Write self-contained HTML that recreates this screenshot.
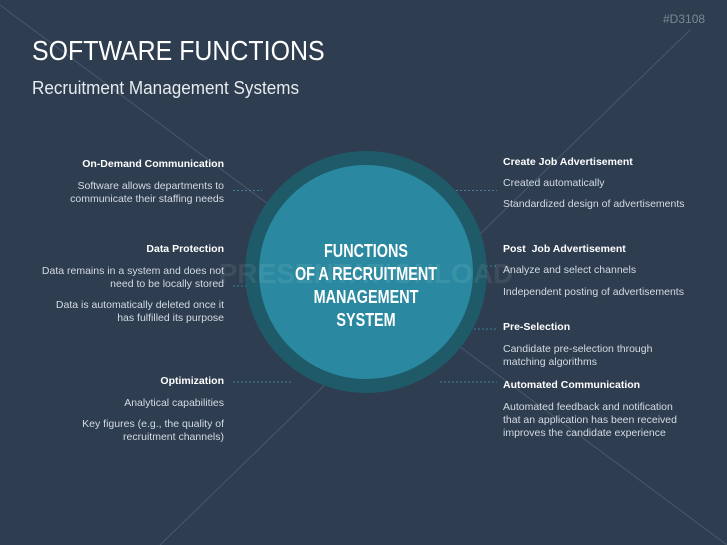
<!DOCTYPE html>
<html><head><meta charset="utf-8"><style>
*{margin:0;padding:0}
body{width:727px;height:545px;background:#2e3d50;position:relative;overflow:hidden;font-family:"Liberation Sans",sans-serif;color:#d4dbe2}
.a{position:absolute;font-size:10.5px;line-height:13px}
.l{text-align:right;right:503px;width:220px}
.r{left:503px;width:220px}
b{color:#fff;font-size:10.5px}
.t{position:absolute;color:#fff}
</style></head><body>
<svg width="727" height="545" style="position:absolute;left:0;top:0">
<line x1="0" y1="5" x2="727" y2="545" stroke="#4a5869" stroke-width="1"/>
<line x1="690" y1="30" x2="160" y2="545" stroke="#4a5869" stroke-width="1"/>
<g stroke="#3f7f95" stroke-dasharray="2,2" stroke-width="1">
<line x1="233" y1="190.5" x2="262" y2="190.5"/>
<line x1="233" y1="286" x2="248" y2="286"/>
<line x1="233" y1="382" x2="292" y2="382"/>
<line x1="436" y1="190.5" x2="497" y2="190.5"/>
<line x1="486" y1="266" x2="497" y2="266"/>
<line x1="470" y1="329" x2="497" y2="329"/>
<line x1="440" y1="382" x2="497" y2="382"/>
</g>
<circle cx="366" cy="272" r="121" fill="#1f5a69"/>
<circle cx="366" cy="272" r="107" fill="#2a89a0"/>
<text x="366" y="283" text-anchor="middle" font-family="Liberation Sans" font-weight="bold" font-size="28" fill="#fff" fill-opacity="0.08">PRESENTATIONLOAD</text>
</svg>
<div class="t" style="left:32px;top:35px;font-size:28px;transform:scaleX(0.89);transform-origin:left">SOFTWARE FUNCTIONS</div>
<div class="t" style="left:32px;top:78px;font-size:18px;color:#e6ebef;transform:scaleX(0.95);transform-origin:left">Recruitment Management Systems</div>
<div class="t" style="left:663px;top:12px;font-size:12px;color:#7b8795">#D3108</div>
<div class="t" style="left:266px;top:240px;width:200px;text-align:center;font-size:18px;line-height:23px;font-weight:bold;transform:scaleX(0.8);transform-origin:center">FUNCTIONS<br>OF A RECRUITMENT<br>MANAGEMENT<br>SYSTEM</div>
<div class="a l" style="top:158px"><b>On-Demand Communication</b></div>
<div class="a l" style="top:180px">Software allows departments to<br>communicate their staffing needs</div>
<div class="a l" style="top:243px"><b>Data Protection</b></div>
<div class="a l" style="top:265px">Data remains in a system and does not<br>need to be locally stored</div>
<div class="a l" style="top:299px">Data is automatically deleted once it<br>has fulfilled its purpose</div>
<div class="a l" style="top:375px"><b>Optimization</b></div>
<div class="a l" style="top:397px">Analytical capabilities</div>
<div class="a l" style="top:418px">Key figures (e.g., the quality of<br>recruitment channels)</div>
<div class="a r" style="top:156px"><b>Create Job Advertisement</b></div>
<div class="a r" style="top:177px">Created automatically</div>
<div class="a r" style="top:198px">Standardized design of advertisements</div>
<div class="a r" style="top:243px"><b>Post &nbsp;Job Advertisement</b></div>
<div class="a r" style="top:264px">Analyze and select channels</div>
<div class="a r" style="top:286px">Independent posting of advertisements</div>
<div class="a r" style="top:321px"><b>Pre-Selection</b></div>
<div class="a r" style="top:343px">Candidate pre-selection through<br>matching algorithms</div>
<div class="a r" style="top:379px"><b>Automated Communication</b></div>
<div class="a r" style="top:401px">Automated feedback and notification<br>that an application has been received<br>improves the candidate experience</div>
</body></html>
